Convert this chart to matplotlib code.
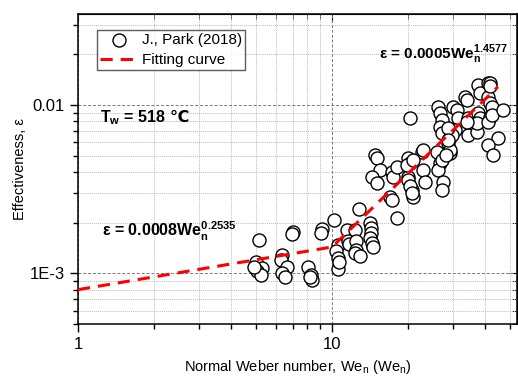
import numpy as np
import matplotlib
matplotlib.use("Agg")
import matplotlib.pyplot as plt
from matplotlib.ticker import LogLocator, FixedLocator, FixedFormatter, NullFormatter

plt.rcParams['font.family'] = ['Liberation Sans', 'DejaVu Sans']
plt.rcParams['mathtext.fontset'] = 'custom'
plt.rcParams['mathtext.rm'] = 'Liberation Sans'
plt.rcParams['mathtext.bf'] = 'Liberation Sans:bold'

# Measured data: Normal Weber number and effectiveness
we_n = [5.16, 5.02, 5.30, 5.07, 5.25, 4.93,
        7.02, 6.96, 6.36, 6.30, 6.65, 6.36, 6.53,
        9.14, 9.05, 8.05, 8.26, 8.34, 8.19,
        10.18, 10.56, 10.37, 10.56, 10.56, 10.66, 11.46, 11.56, 11.67,
        12.32, 12.43, 12.43, 12.32, 12.89, 12.77,
        14.12, 14.25, 14.25, 14.12, 14.37, 14.50,
        14.76, 15.04, 15.45, 14.37, 15.04, 17.22, 17.38, 16.90, 17.22, 18.03,
        19.92, 20.28, 22.60, 22.80, 19.92, 20.65, 20.84, 18.03, 20.28, 19.73,
        19.92, 23.23, 25.89, 29.17, 28.64, 26.61, 26.13, 27.36, 27.10,
        26.13, 26.61, 27.10, 26.61, 27.10, 29.17, 29.17, 27.10,
        29.95, 31.06, 31.35, 30.50, 29.68, 33.42, 33.98, 34.29, 34.29,
        37.20, 37.56, 38.27, 37.56, 38.27, 37.20,
        41.13, 41.89, 41.13, 41.89, 42.67, 41.89, 41.13, 42.67,
        47.12, 45.05, 41.13, 43.05, 22.80, 20.84,
        33.98, 28.64, 28.64, 28.00, 41.89, 20.28, 20.65]
eps = [0.00158, 0.00117, 0.00107, 0.00103, 0.00098, 0.00109,
       0.00176, 0.00172, 0.00128, 0.00120, 0.00109, 0.00100, 0.00095,
       0.00183, 0.00174, 0.00109, 0.00098, 0.00091, 0.00095,
       0.00207, 0.00147, 0.00136, 0.00123, 0.00106, 0.00117, 0.00181, 0.00156, 0.00149,
       0.00181, 0.00156, 0.00138, 0.00132, 0.00127, 0.00241,
       0.00199, 0.00186, 0.00174, 0.00162, 0.00151, 0.00143,
       0.00505, 0.00484, 0.00411, 0.00373, 0.00344, 0.00400, 0.00373, 0.00284, 0.00273, 0.00428,
       0.00484, 0.00452, 0.00526, 0.00411, 0.00373, 0.00313, 0.00284, 0.00213, 0.00837, 0.00440,
       0.00358, 0.00349, 0.00526, 0.00519, 0.00595, 0.00452, 0.00411, 0.00349, 0.00313,
       0.00973, 0.00896, 0.00814, 0.00740, 0.00682, 0.00645, 0.00540, 0.00471,
       0.00973, 0.00934, 0.00837, 0.00710, 0.00663, 0.01116, 0.01071, 0.00837, 0.00663,
       0.00691, 0.01315, 0.01179, 0.00896, 0.00837, 0.00782,
       0.01352, 0.01352, 0.01116, 0.01028, 0.00973, 0.00849, 0.00792, 0.00873,
       0.00934, 0.00637, 0.00578, 0.00505, 0.00540, 0.00471,
       0.00792, 0.00730, 0.00623, 0.00505, 0.01290, 0.00330, 0.00300]

# Fitting curve parameters (two power-law branches)
low_coef, low_exp = 0.0008, 0.2535
high_coef, high_exp = 0.00005, 1.4577
fit_range = [1.0, 45.0]

x_ticks = [1, 10]
x_tick_labels = ['1', '10']
y_ticks = [1e-3, 1e-2]
y_tick_labels = ['1E-3', '0.01']

fig = plt.figure(figsize=(5.18, 3.78), dpi=100)
ax = fig.add_axes([0.1506, 0.1429, 0.8475, 0.8201])
ax.set_xscale('log')
ax.set_yscale('log')
ax.set_xlim(1, 53.5)
ax.set_ylim(0.0005, 0.0348)

wf = np.logspace(np.log10(fit_range[0]), np.log10(fit_range[1]), 400)
fit = np.maximum(low_coef * wf ** low_exp, high_coef * wf ** high_exp)

ax.scatter(we_n, eps, s=88, facecolors='white', edgecolors='black',
           linewidths=1.0, zorder=3, label='J., Park (2018)')
ax.plot(wf, fit, color='red', lw=2.2, dashes=(4, 2.6), zorder=4,
        label='Fitting curve')

# Grid
ax.grid(True, which='major', color='#777777', linestyle=(0, (3, 2)), lw=0.7)
ax.grid(True, which='minor', color='#bbbbbb', linestyle=(0, (1, 1)), lw=0.7)
ax.set_axisbelow(True)

ax.xaxis.set_major_locator(FixedLocator(x_ticks))
ax.xaxis.set_major_formatter(FixedFormatter(x_tick_labels))
ax.xaxis.set_minor_locator(LogLocator(base=10, subs=np.arange(2, 10)))
ax.xaxis.set_minor_formatter(NullFormatter())
ax.yaxis.set_major_locator(FixedLocator(y_ticks))
ax.yaxis.set_major_formatter(FixedFormatter(y_tick_labels))
ax.yaxis.set_minor_locator(LogLocator(base=10, subs=np.arange(2, 10)))
ax.yaxis.set_minor_formatter(NullFormatter())

ax.tick_params(which='both', direction='out', top=False, right=False, labelsize=12, width=1)
ax.tick_params(which='major', length=6)
ax.tick_params(which='minor', length=3.5)
for sp in ax.spines.values():
    sp.set_linewidth(1.1)

ax2 = ax.secondary_xaxis('top')
ax2.xaxis.set_major_locator(FixedLocator(x_ticks))
ax2.xaxis.set_minor_locator(LogLocator(base=10, subs=np.arange(2, 10)))
ax2.tick_params(which='both', direction='in', labeltop=False)
ax2.tick_params(which='major', length=6)
ax2.tick_params(which='minor', length=3.5)
ax2.xaxis.set_major_formatter(NullFormatter())
ax2.xaxis.set_minor_formatter(NullFormatter())
ax3 = ax.secondary_yaxis('right')
ax3.yaxis.set_major_locator(FixedLocator(y_ticks))
ax3.yaxis.set_minor_locator(LogLocator(base=10, subs=np.arange(2, 10)))
ax3.tick_params(which='both', direction='in', labelright=False)
ax3.tick_params(which='major', length=6)
ax3.tick_params(which='minor', length=3.5)
ax3.yaxis.set_major_formatter(NullFormatter())
ax3.yaxis.set_minor_formatter(NullFormatter())

ax.set_xlabel('Normal Weber number, We$_\\mathregular{n}$ (We$_\\mathregular{n}$)', fontsize=10.5, labelpad=4)
ax.set_ylabel('Effectiveness, ε', fontsize=10.5, labelpad=2)

leg = ax.legend(loc='upper left', bbox_to_anchor=(0.044, 0.948), fontsize=11,
                frameon=True, fancybox=False, edgecolor='#333333',
                handlelength=2.4, handletextpad=0.3, borderpad=0.2,
                labelspacing=0.4, borderaxespad=0)
leg.get_frame().set_linewidth(1.0)

t = ax.text(0.05, 0.665, 'T$_\\mathregular{w}$ = 518', transform=ax.transAxes,
            fontsize=11.5, fontweight='bold', va='center')
ax.annotate('℃', xy=(1.0, 0.5), xycoords=t, xytext=(3, 0), textcoords='offset points',
            va='center', ha='left', fontsize=11.5, fontweight='bold', family='DejaVu Sans')
ax.text(0.685, 0.872, 'ε = 0.0005We$_\\mathregular{n}^\\mathregular{1.4577}$', transform=ax.transAxes,
        fontsize=11, fontweight='bold', va='center')
ax.text(0.055, 0.30, 'ε = 0.0008We$_\\mathregular{n}^\\mathregular{0.2535}$', transform=ax.transAxes,
        fontsize=11.5, fontweight='bold', va='center')

fig.savefig('out.png', dpi=100)
